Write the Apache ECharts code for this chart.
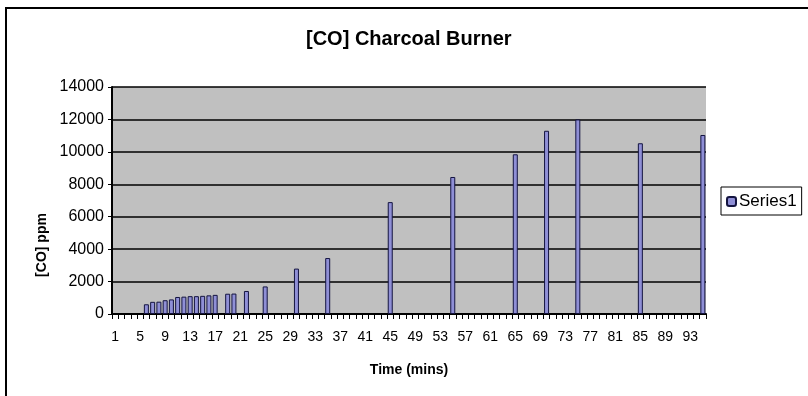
<!DOCTYPE html>
<html>
<head>
<meta charset="utf-8">
<script src="https://cdn.jsdelivr.net/npm/echarts@6/dist/echarts.min.js"></script>
<style>
  html, body { margin: 0; padding: 0; background: #fff; }
  #chart { width: 808px; height: 396px; }
</style>
</head>
<body>
<div id="chart"></div>
<script>
// minutes that have a reading, and the CO reading (ppm) at each
var times = [6, 7, 8, 9, 10, 11, 12, 13, 14, 15, 16, 17, 19, 20, 22, 25, 30, 35, 45, 55, 65, 70, 75, 85, 95];
var coPpm = [600, 750, 760, 850, 900, 1050, 1070, 1100, 1100, 1120, 1150, 1180, 1250, 1260, 1420, 1700, 2800, 3450, 6900, 8450, 9850, 11300, 12000, 10530, 11040];
var lastMinute = 95;
var yTicks = [0, 2000, 4000, 6000, 8000, 10000, 12000, 14000];

// category axis 1..95, empty where there is no reading
var categories = [];
var values = [];
for (var m = 1; m <= lastMinute; m++) {
  categories.push(String(m));
  var k = times.indexOf(m);
  values.push(k >= 0 ? coPpm[k] : null);
}

var font = '"Liberation Sans", Arial, sans-serif';
var myChart = echarts.init(document.getElementById('chart'));

var option = {
  animation: false,
  backgroundColor: '#fff',
  title: {
    text: '[CO] Charcoal Burner',
    left: 301,
    top: 24,
    textStyle: { fontFamily: font, fontSize: 20, fontWeight: 'bold', color: '#000' }
  },
  legend: {
    data: ['Series1'],
    left: 721,
    top: 187,
    orient: 'vertical',
    padding: [6, 5, 5, 5],
    borderColor: '#000',
    borderWidth: 1,
    itemWidth: 9,
    itemHeight: 9,
    itemGap: 0,
    textStyle: { fontFamily: font, fontSize: 17, color: '#000', padding: [0, 0, 0, -2] }
  },
  grid: {
    left: 112,
    right: 102,
    top: 87,
    bottom: 82,
    show: true,
    backgroundColor: '#c0c0c0',
    borderWidth: 0
  },
  xAxis: {
    type: 'category',
    data: categories,
    name: 'Time (mins)',
    nameLocation: 'middle',
    nameGap: 49,
    nameTextStyle: { fontFamily: font, fontSize: 14, fontWeight: 'bold', color: '#000' },
    axisLine: { lineStyle: { color: '#000', width: 2 } },
    axisTick: { show: true, interval: 0, length: 5, lineStyle: { color: '#000' } },
    axisLabel: { interval: 3, fontFamily: font, fontSize: 14, color: '#000', margin: 16 },
    splitLine: { show: false }
  },
  yAxis: {
    type: 'value',
    min: 0,
    max: yTicks[yTicks.length - 1],
    interval: yTicks[1] - yTicks[0],
    axisLine: { show: true, lineStyle: { color: '#000', width: 2 } },
    axisTick: { show: true, length: 4, lineStyle: { color: '#000' } },
    axisLabel: {
      fontFamily: font, fontSize: 16, color: '#000', margin: 8,
      formatter: function(v) { return String(v); }
    },
    splitLine: { show: true, lineStyle: { color: '#000', width: 1.5 } }
  },
  series: [
    {
      name: 'Series1',
      type: 'bar',
      data: values,
      barWidth: 5,
      itemStyle: { color: '#8f8fd6', borderColor: '#141440', borderWidth: 1 }
    }
  ],
  graphic: [
    // 外框（只看得到上边和左边）
    { type: 'line', shape: { x1: 5, y1: 8, x2: 808, y2: 8 }, style: { stroke: '#000', lineWidth: 2 } },
    { type: 'line', shape: { x1: 6, y1: 8, x2: 6, y2: 396 }, style: { stroke: '#000', lineWidth: 2 } },
    {
      type: 'text',
      x: 42,
      y: 245,
      rotation: Math.PI / 2,
      style: {
        text: '[CO] ppm',
        font: 'bold 14px ' + font,
        fill: '#000',
        textAlign: 'center',
        textVerticalAlign: 'middle'
      }
    }
  ]
};

myChart.setOption(option);
window.addEventListener('resize', function() {
  myChart.resize();
});
</script>
</body>
</html>
